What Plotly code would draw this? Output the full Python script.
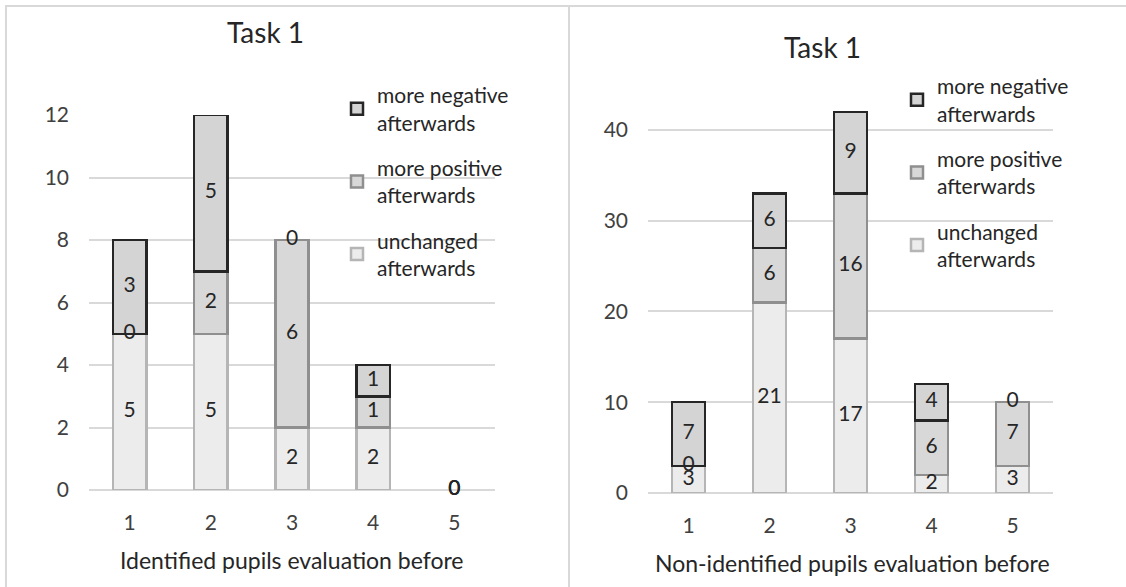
import plotly.graph_objects as go

categories = [1, 2, 3, 4, 5]
series_names = ["unchanged<br>afterwards", "more positive<br>afterwards", "more negative<br>afterwards"]

# Identified pupils (left panel)
ident_unchanged = [5, 5, 2, 2, 0]
ident_positive = [0, 2, 6, 1, 0]
ident_negative = [3, 5, 0, 1, 0]

# Non-identified pupils (right panel)
non_unchanged = [3, 21, 17, 2, 3]
non_positive = [0, 6, 16, 6, 7]
non_negative = [7, 6, 9, 4, 0]

titles = ["Task 1", "Task 1"]
x_titles = ["Identified pupils evaluation before", "Non-identified pupils evaluation before"]

fills = ["#ececec", "#d8d8d8", "#d4d4d4"]
lines = ["#b5b5b5", "#8f8f8f", "#262626"]
ranks = [3, 2, 1]

FONT = "Lato"
fs = 21
txtcol = "#262626"

fig = go.Figure()

panels = [
    ([ident_unchanged, ident_positive, ident_negative], "x", "y", "legend"),
    ([non_unchanged, non_positive, non_negative], "x2", "y2", "legend2"),
]

for series, xa, ya, lg in panels:
    base = [0] * len(categories)
    mids_all = []
    for i, vals in enumerate(series):
        fig.add_trace(go.Bar(
            x=categories, y=[v if v else None for v in vals], name=series_names[i],
            xaxis=xa, yaxis=ya,
            legend=lg, legendgroup=f"{lg}{i}", legendrank=ranks[i],
            marker=dict(color=fills[i], line=dict(color=lines[i], width=2.5)),
            cliponaxis=False, hoverinfo="skip",
        ))
        mids_all.append(([b + v / 2 for b, v in zip(base, vals)], vals))
        base = [b + v for b, v in zip(base, vals)]
    for mids, vals in mids_all:
        fig.add_trace(go.Scatter(
            x=categories, y=mids, mode="text", text=[str(v) for v in vals],
            textfont=dict(family=FONT, size=fs, color=txtcol),
            xaxis=xa, yaxis=ya, showlegend=False, cliponaxis=False, hoverinfo="skip",
        ))

W, H = 1126, 587

def px_x(p):
    return p / W

def px_y(p):
    return (H - p) / H

grid = "#d9d9d9"
axis_common = dict(
    showgrid=False, zeroline=False, tickfont=dict(family=FONT, size=fs, color="#404040"),
)
yaxis_common = dict(
    showgrid=True, gridcolor=grid, gridwidth=2, zeroline=True, zerolinecolor=grid,
    zerolinewidth=2, tickfont=dict(family=FONT, size=fs, color="#404040"),
    ticklabelstandoff=19, showline=False,
)

legend_common = dict(
    font=dict(family=FONT, size=fs, color=txtcol), bgcolor="rgba(0,0,0,0)",
    traceorder="grouped", tracegroupgap=15, xanchor="left", yanchor="top",
    itemclick=False,
)

fig.update_layout(
    width=W, height=H, margin=dict(l=0, r=0, t=0, b=0, autoexpand=False), autosize=False,
    paper_bgcolor="white", plot_bgcolor="white",
    barmode="stack", bargap=0.59, showlegend=True,
    font=dict(family=FONT, size=fs, color=txtcol),
    xaxis=dict(domain=[px_x(89), px_x(495)], range=[0.5, 5.5], tickvals=categories,
               ticklabelstandoff=18, anchor="y", **axis_common),
    yaxis=dict(domain=[px_y(490), px_y(115)], range=[0, 12], dtick=2, anchor="x", **yaxis_common),
    xaxis2=dict(domain=[px_x(648), px_x(1053)], range=[0.5, 5.5], tickvals=categories,
                ticklabelstandoff=18, anchor="y2", **axis_common),
    yaxis2=dict(domain=[px_y(493), px_y(493 - 45 * 9.075)], range=[0, 45], tickvals=[0, 10, 20, 30, 40],
                anchor="x2", **yaxis_common),
    legend=dict(x=px_x(337), y=px_y(75), **legend_common),
    legend2=dict(x=px_x(897), y=px_y(66), **legend_common),
)

ann = dict(xref="paper", yref="paper", showarrow=False, xanchor="center", yanchor="middle")
fig.add_annotation(text=titles[0], x=px_x(265), y=px_y(32), font=dict(family=FONT, size=28, color=txtcol), **ann)
fig.add_annotation(text=titles[1], x=px_x(822), y=px_y(47), font=dict(family=FONT, size=28, color=txtcol), **ann)
fig.add_annotation(text=x_titles[0], x=px_x(292), y=px_y(560), font=dict(family=FONT, size=23, color=txtcol), **ann)
fig.add_annotation(text=x_titles[1], x=px_x(852), y=px_y(563), font=dict(family=FONT, size=23, color=txtcol), **ann)

# chart frames
frame = dict(color="#d9d9d9", width=2)
fig.add_shape(type="line", xref="paper", yref="paper", x0=px_x(5), x1=1, y0=px_y(6), y1=px_y(6), line=frame)
fig.add_shape(type="line", xref="paper", yref="paper", x0=px_x(6), x1=px_x(6), y0=px_y(5), y1=0, line=frame)
fig.add_shape(type="line", xref="paper", yref="paper", x0=px_x(569), x1=px_x(569), y0=px_y(5), y1=0, line=frame)

fig.write_html(
    "out.html",
    config={"responsive": False, "displayModeBar": False},
    post_script="document.body.style.margin='0';document.body.style.overflow='hidden';",
)
